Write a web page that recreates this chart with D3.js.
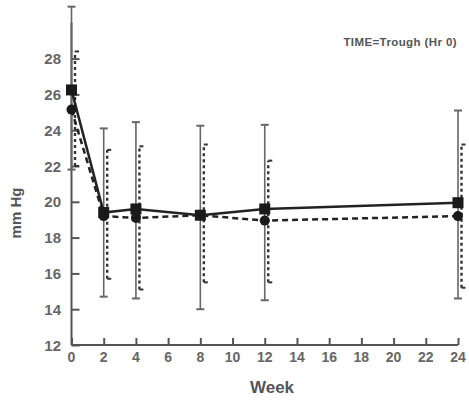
<!DOCTYPE html>
<html><head><meta charset="utf-8">
<script src="https://cdn.jsdelivr.net/npm/d3@7"></script>
<style>body{margin:0;background:#fff}svg{display:block;font-family:"Liberation Sans",Arial,sans-serif}</style>
</head><body><svg id="c" width="469" height="402"></svg>
<script>
const weeks = [0, 2, 4, 8, 12, 24];
const solidMean = [26.25, 19.4, 19.6, 19.25, 19.6, 19.95];
const solidUpper = [30.9, 24.1, 24.45, 24.25, 24.3, 25.1];
const solidLower = [21.8, 14.7, 14.6, 14.0, 14.5, 14.6];
const dashMean = [25.15, 19.2, 19.1, 19.25, 18.95, 19.2];
const dashUpper = [28.4, 22.9, 23.1, 23.2, 22.3, 23.2];
const dashLower = [22.0, 15.7, 15.1, 15.5, 15.5, 15.2];
const xTicks = [0,2,4,6,8,10,12,14,16,18,20,22,24];
const yTicks = [12,14,16,18,20,22,24,26,28];
const annotation = "TIME=Trough (Hr 0)";
const xTitle = "Week", yTitle = "mm Hg";

const svg = d3.select("#c");
const x = d3.scaleLinear().domain([0,24]).range([71.5,458]);
const y = d3.scaleLinear().domain([12,28]).range([345,58.6]);
const ink = "#222", grey = "#555";

// axes
const g = svg.append("g");
g.append("line").attr("x1",x(0)).attr("x2",x(0)).attr("y1",y(12)).attr("y2",y(30)).attr("stroke",grey).attr("stroke-width",2);
g.append("line").attr("x1",x(0)).attr("x2",x(24)).attr("y1",y(12)).attr("y2",y(12)).attr("stroke",grey).attr("stroke-width",2);
const yAxis = d3.axisRight(y).tickValues(yTicks).tickSize(8).tickFormat("");
svg.append("g").attr("transform",`translate(${x(0)},0)`).call(yAxis)
  .call(s=>{s.select(".domain").remove();s.selectAll("line").attr("stroke",grey).attr("stroke-width",2);});
svg.selectAll(".ylab").data(yTicks).join("text").attr("class","ylab")
  .attr("x",61).attr("y",d=>y(d)+5.5).attr("text-anchor","end")
  .attr("font-size",15).attr("font-weight","bold").attr("fill","#666").text(d=>d);
const xAxis = d3.axisTop(x).tickValues(xTicks).tickSize(7).tickFormat("");
svg.append("g").attr("transform",`translate(0,${y(12)})`).call(xAxis)
  .call(s=>{s.select(".domain").remove();s.selectAll("line").attr("stroke",grey).attr("stroke-width",2);});
svg.selectAll(".xlab").data(xTicks).join("text").attr("class","xlab")
  .attr("x",d=>x(d)).attr("y",362).attr("text-anchor","middle")
  .attr("font-size",14).attr("font-weight","bold").attr("fill","#666").text(d=>d);
svg.append("text").attr("x",272).attr("y",393).attr("text-anchor","middle")
  .attr("font-size",17).attr("font-weight","bold").attr("fill","#555").text(xTitle);
svg.append("text").attr("transform","translate(21,213) rotate(-90)").attr("text-anchor","middle")
  .attr("font-size",15).attr("font-weight","bold").attr("fill","#555").text(yTitle);
svg.append("text").attr("x",457).attr("y",46).attr("text-anchor","end")
  .attr("font-size",11.5).attr("letter-spacing",0.4).attr("font-weight","bold").attr("fill","#555").text(annotation);

// error bars
function errBars(lo, hi, dx, dash, capL, capR, w, col){
  const eg = svg.append("g").attr("stroke",col);
  weeks.forEach((wk,i)=>{
    const cx = x(wk)+dx;
    eg.append("line").attr("x1",cx).attr("x2",cx).attr("y1",y(lo[i])).attr("y2",y(hi[i]))
      .attr("stroke-width",w).attr("stroke-dasharray",dash);
    [lo[i],hi[i]].forEach(v=>eg.append("line").attr("x1",cx-capL).attr("x2",cx+capR)
      .attr("y1",y(v)).attr("y2",y(v)).attr("stroke-width",2));
  });
}
errBars(solidLower, solidUpper, 0, null, 4, 4, 1.6, "#666");
errBars(dashLower, dashUpper, 3.5, "3,3", 0, 4, 2.4, "#333");

// lines
const line = (arr)=>d3.line().x((d,i)=>x(weeks[i])).y(d=>y(d))(arr);
svg.append("path").attr("d",line(dashMean)).attr("fill","none").attr("stroke",ink)
  .attr("stroke-width",2.5).attr("stroke-dasharray","6,4");
svg.append("path").attr("d",line(solidMean)).attr("fill","none").attr("stroke",ink).attr("stroke-width",2.5);

// markers
svg.selectAll(".circ").data(dashMean).join("circle").attr("class","circ")
  .attr("cx",(d,i)=>x(weeks[i])).attr("cy",d=>y(d)).attr("r",5).attr("fill","#1a1a1a");
svg.selectAll(".sq").data(solidMean).join("rect").attr("class","sq")
  .attr("x",(d,i)=>x(weeks[i])-5.5).attr("y",d=>y(d)-5.5).attr("width",11).attr("height",11).attr("fill","#1a1a1a");
</script></body></html>
